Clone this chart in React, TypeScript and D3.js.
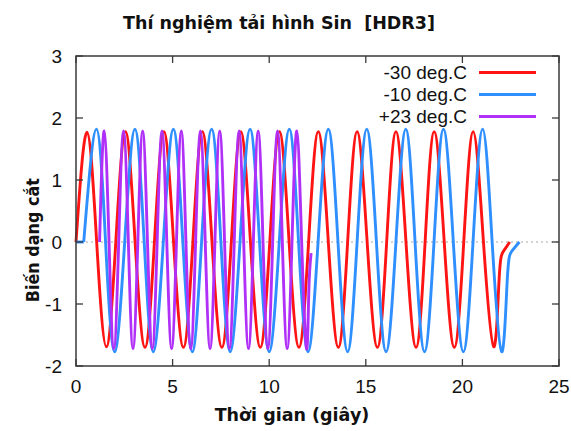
import React from "react";
import * as d3 from "d3";

// ---- Data ----
const TITLE = "Thí nghiệm tải hình Sin  [HDR3]";
const X_LABEL = "Thời gian (giây)";
const Y_LABEL = "Biến dạng cắt";
const X_TICKS = [0, 5, 10, 15, 20, 25];
const Y_TICKS = [-2, -1, 0, 1, 2, 3];
const SERIES_NAMES = ["-30 deg.C", "-10 deg.C", "+23 deg.C"];

// -30 deg.C : [time (s), shear strain]
const red30: [number, number][] = [
  [0, 0], [0.57, 1.77], [1.07, 0], [1.57, -1.69], [2.06, 0], [2.56, 1.78], [3.06, 0], [3.57, -1.7],
  [4.06, 0], [4.55, 1.78], [5.05, 0], [5.56, -1.7], [6.05, 0], [6.54, 1.78], [7.04, 0], [7.55, -1.7],
  [8.04, 0], [8.53, 1.78], [9.03, 0], [9.54, -1.7], [10.03, 0], [10.53, 1.78], [11.03, 0], [11.54, -1.7],
  [12.04, 0], [12.54, 1.78], [13.06, 0], [13.58, -1.7], [14.06, 0], [14.55, 1.78], [15.07, 0], [15.6, -1.7],
  [16.08, 0], [16.56, 1.78], [17.08, 0], [17.6, -1.7], [18.07, 0], [18.54, 1.78], [19.06, 0], [19.58, -1.7],
  [20.07, 0], [20.56, 1.78], [21.09, 0], [21.62, -1.69], [21.9, -0.6], [22.12, -0.15], [22.45, 0],
];

// -10 deg.C
const blue10Lead: [number, number][] = [[0, 0], [0.4, 0]];
const blue10: [number, number][] = [
  [0.4, 0], [1.06, 1.82], [1.53, 0], [2.0, -1.77], [2.52, 0], [3.05, 1.82], [3.53, 0], [4.0, -1.77],
  [4.52, 0], [5.04, 1.82], [5.53, 0], [6.02, -1.77], [6.5, 0], [7.02, 1.82], [7.5, 0], [7.98, -1.77],
  [8.49, 0], [9.01, 1.82], [9.5, 0], [10.0, -1.77], [10.52, 0], [11.04, 1.82], [11.52, 0], [12.01, -1.77],
  [12.53, 0], [13.06, 1.82], [13.56, 0], [14.06, -1.77], [14.55, 0], [15.05, 1.82], [15.55, 0], [16.05, -1.77],
  [16.56, 0], [17.07, 1.82], [17.55, 0], [18.04, -1.77], [18.53, 0], [19.02, 1.82], [19.53, 0], [20.05, -1.77],
  [20.55, 0], [21.05, 1.82], [21.54, 0], [22.03, -1.77], [22.32, -0.62], [22.55, -0.15], [22.95, 0],
];

// +23 deg.C
const purple23: [number, number][] = [
  [1.22, 0], [1.46, 1.79], [1.71, 0], [1.96, -1.72], [2.21, 0], [2.46, 1.79], [2.71, 0], [2.95, -1.72],
  [3.2, 0], [3.45, 1.79], [3.7, 0], [3.95, -1.72], [4.2, 0], [4.45, 1.79], [4.7, 0], [4.95, -1.72],
  [5.2, 0], [5.45, 1.79], [5.69, 0], [5.94, -1.72], [6.19, 0], [6.44, 1.79], [6.69, 0], [6.94, -1.72],
  [7.19, 0], [7.44, 1.79], [7.69, 0], [7.94, -1.72], [8.19, 0], [8.44, 1.79], [8.68, 0], [8.93, -1.72],
  [9.18, 0], [9.43, 1.79], [9.68, 0], [9.93, -1.72], [10.18, 0], [10.43, 1.79], [10.68, 0], [10.93, -1.72],
  [11.18, 0], [11.43, 1.79], [11.68, 0], [11.93, -1.72], [12.05, -0.8], [12.17, -0.18],
];

const COLORS = ["#ff1414", "#2f8fff", "#b030f8"];

// ---- Layout ----
const W = 571;
const H = 431;
const PL = 76, PR = 559, PT = 56, PB = 366;

export default function App() {
  const x = d3.scaleLinear().domain([0, 25]).range([PL, PR]);
  const y = d3.scaleLinear().domain([-2, 3]).range([PB, PT]);

  const smooth = d3
    .line<[number, number]>()
    .x((d) => x(d[0]))
    .y((d) => y(d[1]))
    .curve(d3.curveNatural);
  const straight = d3
    .line<[number, number]>()
    .x((d) => x(d[0]))
    .y((d) => y(d[1]))
    .curve(d3.curveLinear);

  const tickLen = 7;
  const axisColor = "#3a3a3a";
  const tickFont = "'Liberation Sans', Arial, sans-serif";
  const boldFont = "'DejaVu Sans', Verdana, sans-serif";
  const lw = 2.9;

  const legendRows = [72.5, 94.5, 116.5];

  return (
    <svg
      width={W}
      height={H}
      style={{ position: "absolute", left: 0, top: 0, background: "#fff" }}
    >
      <rect x={0} y={0} width={W} height={H} fill="#fff" />
      {/* Title */}
      <text
        x={279}
        y={29}
        textAnchor="middle"
        fontFamily={boldFont}
        fontWeight="bold"
        fontSize={17.5}
        fill="#111"
        style={{ whiteSpace: "pre" }}
      >
        {TITLE}
      </text>

      {/* zero reference line */}
      <line
        x1={PL}
        x2={PR}
        y1={y(0)}
        y2={y(0)}
        stroke="#a8a8a8"
        strokeWidth={1.2}
        strokeDasharray="2 3"
      />

      {/* series */}
      <path d={smooth(red30) || ""} fill="none" stroke={COLORS[0]} strokeWidth={lw} strokeLinejoin="round" />
      <path d={straight(blue10Lead) || ""} fill="none" stroke={COLORS[1]} strokeWidth={lw} />
      <path d={smooth(blue10) || ""} fill="none" stroke={COLORS[1]} strokeWidth={lw} strokeLinejoin="round" />
      <path d={smooth(purple23) || ""} fill="none" stroke={COLORS[2]} strokeWidth={lw} strokeLinejoin="round" />

      {/* border */}
      <rect x={PL} y={PT} width={PR - PL} height={PB - PT} fill="none" stroke={axisColor} strokeWidth={1.5} />

      {/* x ticks (bottom + top, inward) */}
      {X_TICKS.map((t) => (
        <g key={"xt" + t}>
          <line x1={x(t)} x2={x(t)} y1={PB} y2={PB - tickLen} stroke={axisColor} strokeWidth={1.3} />
          <line x1={x(t)} x2={x(t)} y1={PT} y2={PT + tickLen} stroke={axisColor} strokeWidth={1.3} />
          <text
            x={x(t)}
            y={393}
            textAnchor="middle"
            fontFamily={tickFont}
            fontSize={19}
            fill="#111"
          >
            {t}
          </text>
        </g>
      ))}

      {/* y ticks (left + right, inward) */}
      {Y_TICKS.map((t) => (
        <g key={"yt" + t}>
          <line x1={PL} x2={PL + tickLen} y1={y(t)} y2={y(t)} stroke={axisColor} strokeWidth={1.3} />
          <line x1={PR} x2={PR - tickLen} y1={y(t)} y2={y(t)} stroke={axisColor} strokeWidth={1.3} />
          <text
            x={62}
            y={y(t)}
            dy="0.35em"
            textAnchor="end"
            fontFamily={tickFont}
            fontSize={19}
            fill="#111"
          >
            {t}
          </text>
        </g>
      ))}

      {/* legend */}
      {SERIES_NAMES.map((name, i) => (
        <g key={name}>
          <text
            x={467}
            y={legendRows[i]}
            dy="0.35em"
            textAnchor="end"
            fontFamily={tickFont}
            fontSize={19}
            fill="#111"
          >
            {name}
          </text>
          <line
            x1={479}
            x2={536}
            y1={legendRows[i]}
            y2={legendRows[i]}
            stroke={COLORS[i]}
            strokeWidth={lw}
          />
        </g>
      ))}

      {/* axis labels */}
      <text
        x={292}
        y={421}
        textAnchor="middle"
        fontFamily={boldFont}
        fontWeight="bold"
        fontSize={17.5}
        fill="#111"
      >
        {X_LABEL}
      </text>
      <text
        transform={`translate(39, ${y(0.03)}) rotate(-90)`}
        textAnchor="middle"
        fontFamily={boldFont}
        fontWeight="bold"
        fontSize={17}
        textLength={124}
        lengthAdjust="spacingAndGlyphs"
        fill="#111"
      >
        {Y_LABEL}
      </text>
    </svg>
  );
}
